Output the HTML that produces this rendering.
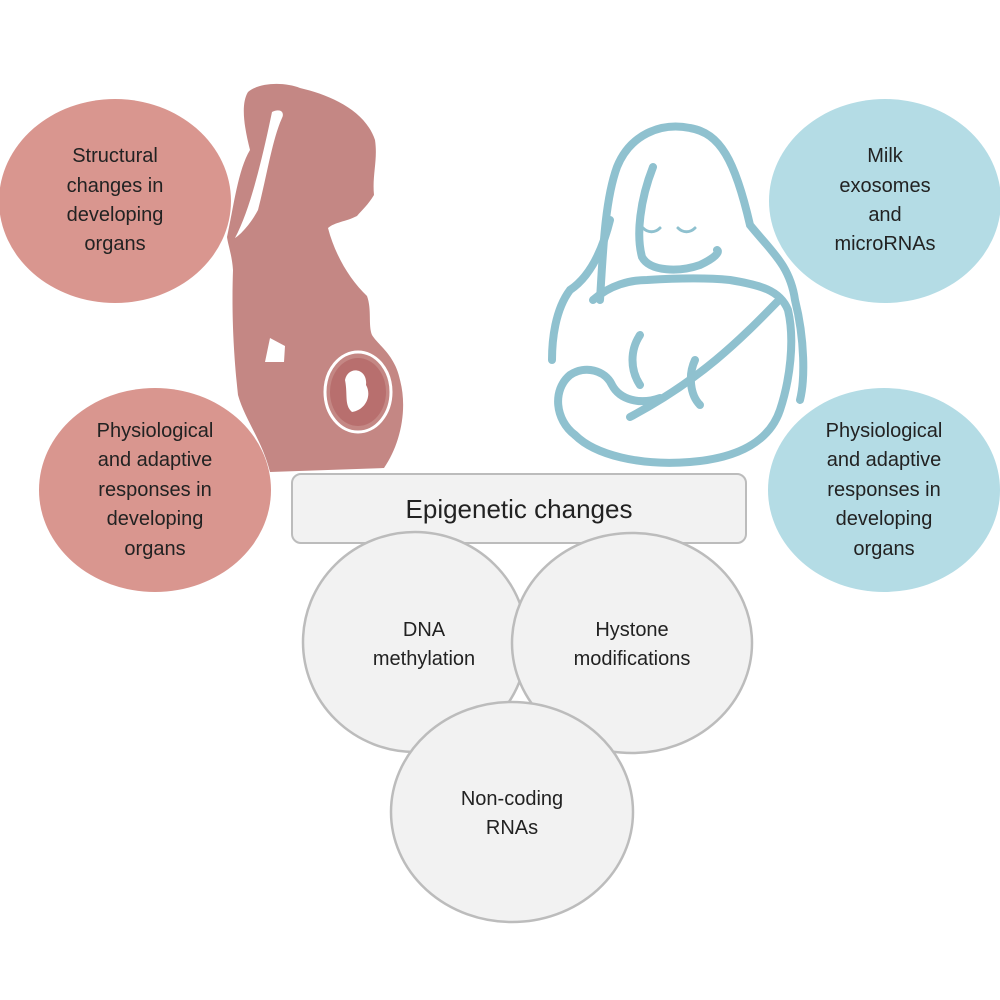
<!DOCTYPE html>
<html><head><meta charset="utf-8"><style>
html,body{margin:0;padding:0;background:#fff}
svg{display:block}
text{font-family:"Liberation Sans",sans-serif;fill:#222}
</style></head><body>
<svg width="1000" height="1000" viewBox="0 0 1000 1000">
<!-- pregnant silhouette -->
<path fill="#c48784" d="M248,92 C260,82 285,82 300,88 C330,95 365,110 375,140 C378,160 372,175 374,195 C368,205 362,210 357,216 C345,222 335,222 328,228 C335,255 350,280 367,296 C372,310 368,325 372,335 C378,345 395,355 400,380 C408,410 400,445 384,468 L270,472 C262,440 245,420 238,395 C232,340 232,300 233,270 C232,255 228,245 227,237 C234,205 238,170 250,150 C245,130 240,105 248,92 Z"/>
<path fill="#fff" d="M272,112 C280,108 285,112 282,118 C272,140 266,180 258,210 C250,225 240,235 235,238 C250,210 262,160 272,112 Z"/>
<path fill="#fff" d="M270,338 L285,346 L284,362 L265,362 Z"/>
<ellipse cx="358" cy="392" rx="33" ry="40" fill="none" stroke="#fff" stroke-width="3"/>
<ellipse cx="358" cy="392" rx="28" ry="34" fill="#b86f6e"/>
<path fill="#fff" d="M345,380 C348,365 368,368 366,385 C372,395 366,410 352,412 C344,405 348,395 345,380 Z"/>
<!-- breastfeeding outline -->
<g fill="none" stroke="#8fc1cf" stroke-width="8" stroke-linecap="round">
<path d="M600,300 C603,250 605,200 617,167 C630,135 660,122 690,128 C720,133 735,160 750,225 C770,250 790,265 795,300 C805,340 805,380 800,400"/>
<path d="M610,220 C600,260 585,280 570,290 C555,310 552,340 552,360"/>
<path d="M653,167 C640,200 636,235 642,257 C650,272 680,272 700,265 C715,258 720,252 717,250"/>
<path d="M593,300 C610,285 630,280 647,280 C680,278 710,278 730,280 C760,285 780,290 788,310 C795,340 790,380 780,410 C770,440 740,458 690,462 C640,466 595,455 575,435"/>
<path d="M777,302 C740,340 700,380 630,417"/>
<path d="M575,435 C555,420 552,390 570,375 C585,365 605,370 612,385 C620,400 640,405 660,398"/>
<path d="M640,335 C630,350 630,370 640,385"/>
<path d="M695,360 C688,375 690,395 700,405"/>
<circle cx="653" cy="230" r="0" />
</g>
<g fill="none" stroke="#8fc1cf" stroke-width="3" stroke-linecap="round">
<path d="M643,228 C648,233 655,233 660,228"/>
<path d="M678,228 C683,233 690,233 695,228"/>
</g>
<!-- side ellipses -->
<ellipse cx="115" cy="201" rx="116" ry="102" fill="#d9968f"/>
<ellipse cx="155" cy="490" rx="116" ry="102" fill="#d9968f"/>
<ellipse cx="885" cy="201" rx="116" ry="102" fill="#b4dce5"/>
<ellipse cx="884" cy="490" rx="116" ry="102" fill="#b4dce5"/>
<g font-size="20" text-anchor="middle">
<text x="115" y="162">Structural</text><text x="115" y="192">changes in</text><text x="115" y="221">developing</text><text x="115" y="250">organs</text>
<text x="155" y="437">Physiological</text><text x="155" y="466">and adaptive</text><text x="155" y="496">responses in</text><text x="155" y="525">developing</text><text x="155" y="555">organs</text>
<text x="885" y="162">Milk</text><text x="885" y="192">exosomes</text><text x="885" y="221">and</text><text x="885" y="250">microRNAs</text>
<text x="884" y="437">Physiological</text><text x="884" y="466">and adaptive</text><text x="884" y="496">responses in</text><text x="884" y="525">developing</text><text x="884" y="555">organs</text>
</g>
<!-- epigenetic -->
<rect x="292" y="474" width="454" height="69" rx="9" fill="#f2f2f2" stroke="#bcbcbc" stroke-width="2"/>
<text x="519" y="518" font-size="26" text-anchor="middle">Epigenetic changes</text>
<ellipse cx="415" cy="642" rx="112" ry="110" fill="#f2f2f2" stroke="#bcbcbc" stroke-width="2.5"/>
<ellipse cx="632" cy="643" rx="120" ry="110" fill="#f2f2f2" stroke="#bcbcbc" stroke-width="2.5"/>
<ellipse cx="512" cy="812" rx="121" ry="110" fill="#f2f2f2" stroke="#bcbcbc" stroke-width="2.5"/>
<g font-size="20" text-anchor="middle">
<text x="424" y="636">DNA</text><text x="424" y="665">methylation</text>
<text x="632" y="636">Hystone</text><text x="632" y="665">modifications</text>
<text x="512" y="805">Non-coding</text><text x="512" y="834">RNAs</text>
</g>
</svg>
</body></html>
